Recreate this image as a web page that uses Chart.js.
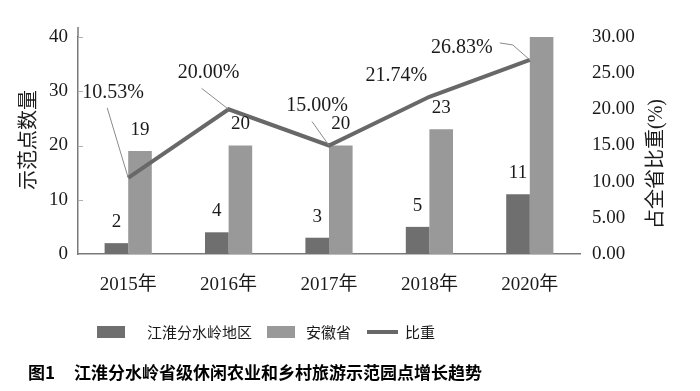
<!DOCTYPE html>
<html>
<head>
<meta charset="utf-8">
<script src="https://cdn.jsdelivr.net/npm/chart.js@4.4.1/dist/chart.umd.min.js"></script>
<style>
  body { margin: 0; background: #fff; }
  #wrap { width: 700px; height: 391px; }
</style>
</head>
<body>
<div id="wrap"><canvas id="myChart" width="700" height="391"></canvas></div>
<script>
// dados
var anos = ['2015年', '2016年', '2017年', '2018年', '2020年'];
var jianghuai = [2, 4, 3, 5, 11];
var anhui = [19, 20, 20, 23, 40];
var bizhong = [10.53, 20.00, 15.00, 21.74, 26.83];
var ticksEsq = [0, 10, 20, 30, 40];
var ticksDir = [0, 5, 10, 15, 20, 25, 30];

var serif = "'Liberation Serif', 'Noto Sans CJK SC', serif";
var cjk = "'Noto Sans CJK SC', sans-serif";

// posicao dos rotulos da linha (texto e linha guia) em relacao ao ponto
var rotulosLinha = [
  { dx: -15, dy: -85, guia: [[-21, -70]] },
  { dx: -20, dy: -37, guia: [[-27, -21]] },
  { dx: -12, dy: -40, guia: [[-17, -24]] },
  { dx: -33, dy: -21, guia: null },
  { dx: -68, dy: -12, guia: [[-30, -17], [-17, -15]] }
];

var rotulos = {
  id: 'rotulos',
  afterDatasetsDraw: function (chart) {
    var ctx = chart.ctx;
    var area = chart.chartArea;
    ctx.save();
    ctx.font = '19px ' + serif;
    ctx.fillStyle = '#1a1a1a';
    ctx.textAlign = 'center';
    ctx.textBaseline = 'middle';
    // valores das barras
    [0, 1].forEach(function (i) {
      var meta = chart.getDatasetMeta(i);
      meta.data.forEach(function (bar, j) {
        var y = bar.y - 21;
        if (y < area.top) return;
        ctx.fillText(chart.data.datasets[i].data[j], bar.x, y);
      });
    });
    // valores da linha
    ctx.font = '20px ' + serif;
    var metaL = chart.getDatasetMeta(2);
    metaL.data.forEach(function (pt, j) {
      var r = rotulosLinha[j];
      if (r.guia) {
        ctx.strokeStyle = '#8a8a8a';
        ctx.lineWidth = 1;
        ctx.beginPath();
        ctx.moveTo(pt.x + r.guia[0][0], pt.y + r.guia[0][1]);
        for (var k = 1; k < r.guia.length; k++) {
          ctx.lineTo(pt.x + r.guia[k][0], pt.y + r.guia[k][1]);
        }
        ctx.lineTo(pt.x, pt.y);
        ctx.stroke();
      }
      ctx.fillText(bizhong[j].toFixed(2) + '%', pt.x + r.dx, pt.y + r.dy);
    });
    ctx.restore();
  },
  afterDraw: function (chart) {
    var ctx = chart.ctx;
    var area = chart.chartArea;
    var y = chart.scales.y;
    ctx.save();
    // prolongamento do eixo esquerdo e marcas internas
    ctx.strokeStyle = '#7a7a7a';
    ctx.lineWidth = 1.5;
    ctx.beginPath();
    ctx.moveTo(area.left, area.top);
    ctx.lineTo(area.left, area.top - 10);
    ctx.stroke();
    ctx.strokeStyle = '#b0b0b0';
    ctx.lineWidth = 1;
    ticksEsq.forEach(function (v) {
      if (v === 0) return;
      var py = Math.round(y.getPixelForValue(v)) + 0.5;
      ctx.beginPath();
      ctx.moveTo(area.left, py);
      ctx.lineTo(area.left + 5, py);
      ctx.stroke();
    });

    ctx.fillStyle = '#1a1a1a';
    ctx.textBaseline = 'middle';
    ctx.textAlign = 'center';
    // titulos dos eixos
    ctx.font = '20px ' + serif;
    ctx.save();
    ctx.translate(30, 140);
    ctx.rotate(-Math.PI / 2);
    ctx.fillText('示范点数量', 0, 0);
    ctx.restore();
    ctx.save();
    ctx.translate(657, 164);
    ctx.rotate(-Math.PI / 2);
    ctx.fillText('占全省比重(%)', 0, 0);
    ctx.restore();

    // legenda
    var ds = chart.data.datasets;
    ctx.textAlign = 'left';
    ctx.font = '15px ' + cjk;
    ctx.fillStyle = ds[0].backgroundColor;
    ctx.fillRect(97, 326, 28, 12);
    ctx.fillStyle = '#1a1a1a';
    ctx.fillText(ds[0].label, 147, 332);
    ctx.fillStyle = ds[1].backgroundColor;
    ctx.fillRect(267, 326, 28, 12);
    ctx.fillStyle = '#1a1a1a';
    ctx.fillText(ds[1].label, 306, 332);
    ctx.strokeStyle = ds[2].borderColor;
    ctx.lineWidth = 4;
    ctx.beginPath();
    ctx.moveTo(367, 332);
    ctx.lineTo(398, 332);
    ctx.stroke();
    ctx.fillText(ds[2].label, 405, 332);

    // legenda da figura
    ctx.fillStyle = '#000';
    ctx.font = 'bold 17px ' + cjk;
    ctx.fillText('图1', 28, 373);
    ctx.fillText('江淮分水岭省级休闲农业和乡村旅游示范园点增长趋势', 74, 373);
    ctx.restore();
  }
};

var ctx = document.getElementById('myChart').getContext('2d');
var myChart = new Chart(ctx, {
  data: {
    labels: anos,
    datasets: [{
      type: 'bar',
      label: '江淮分水岭地区',
      data: jianghuai,
      backgroundColor: '#6f6f6f',
      yAxisID: 'y',
      order: 1,
      barPercentage: 1,
      categoryPercentage: 0.47
    }, {
      type: 'bar',
      label: '安徽省',
      data: anhui,
      backgroundColor: '#999999',
      yAxisID: 'y',
      order: 1,
      barPercentage: 1,
      categoryPercentage: 0.47
    }, {
      type: 'line',
      label: '比重',
      data: bizhong,
      borderColor: '#686868',
      borderWidth: 4,
      pointRadius: 0,
      tension: 0,
      yAxisID: 'y1',
      order: 0
    }]
  },
  options: {
    responsive: false,
    animation: false,
    layout: { padding: { top: 37, left: 0, right: 0, bottom: 0 } },
    plugins: {
      legend: { display: false },
      tooltip: { enabled: false }
    },
    scales: {
      x: {
        grid: { display: false, drawTicks: false },
        border: { color: '#7a7a7a', width: 1.5 },
        ticks: {
          padding: 20,
          color: '#1a1a1a',
          font: { family: serif, size: 19 }
        },
        afterFit: function (s) { s.height = 391 - 254; }
      },
      y: {
        position: 'left',
        min: 0,
        max: 40,
        grid: { display: false, drawTicks: false },
        border: { color: '#7a7a7a', width: 1.5 },
        afterBuildTicks: function (s) { s.ticks = ticksEsq.map(function (v) { return { value: v }; }); },
        ticks: {
          padding: 10,
          color: '#1a1a1a',
          font: { family: serif, size: 19 }
        },
        afterFit: function (s) { s.width = 78; }
      },
      y1: {
        position: 'right',
        min: 0,
        max: 30,
        grid: { display: false, drawTicks: false },
        border: { display: false },
        afterBuildTicks: function (s) { s.ticks = ticksDir.map(function (v) { return { value: v }; }); },
        ticks: {
          padding: 12,
          color: '#1a1a1a',
          font: { family: serif, size: 19 },
          callback: function (v) { return Number(v).toFixed(2); }
        },
        afterFit: function (s) { s.width = 120; }
      }
    }
  },
  plugins: [rotulos]
});
</script>
</body>
</html>
